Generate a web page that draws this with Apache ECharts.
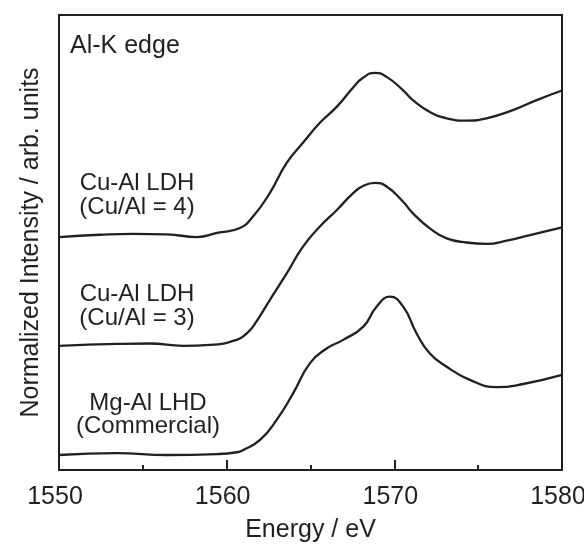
<!DOCTYPE html>
<html>
<head>
<meta charset="utf-8">
<script src="https://cdn.jsdelivr.net/npm/echarts@6/dist/echarts.min.js"></script>
<style>html,body{margin:0;padding:0;background:#fff;}#c{width:584px;height:544px;}</style>
</head>
<body>
<div id="c"></div>
<script>
const xTicks = [1550, 1560, 1570, 1580];
const energyCuAl4 = [1550.0,1552.44,1554.41,1556.44,1558.23,1559.42,1560.79,1561.57,1562.58,1563.58,1564.55,1565.56,1566.56,1567.53,1568.13,1568.84,1569.54,1570.51,1571.11,1572.12,1573.12,1574.31,1575.5,1577.07,1578.49,1580.0];
const intenCuAl4 = [5.12,5.17,5.19,5.18,5.12,5.21,5.32,5.57,6.09,6.75,7.19,7.63,7.98,8.40,8.62,8.73,8.64,8.35,8.13,7.87,7.73,7.68,7.73,7.91,8.13,8.34];
const energyCuAl3 = [1550.0,1553.46,1555.43,1557.39,1559.0,1560.6,1561.19,1561.57,1562.58,1563.58,1564.55,1565.56,1566.56,1567.53,1568.13,1568.84,1569.54,1570.51,1571.11,1572.12,1573.12,1574.31,1575.5,1576.7,1578.09,1580.0];
const intenCuAl3 = [2.73,2.77,2.78,2.73,2.75,2.86,3.00,3.15,3.74,4.32,4.91,5.35,5.71,6.08,6.24,6.31,6.23,5.90,5.64,5.31,5.09,5.00,4.97,5.04,5.16,5.33];
const energyMgAl = [1550.0,1553.46,1556.44,1559.42,1560.61,1560.99,1561.99,1562.98,1563.97,1564.97,1565.96,1566.95,1568.15,1568.94,1569.74,1570.53,1571.33,1572.12,1573.12,1574.51,1576.1,1577.69,1580.0];
const intenMgAl = [0.33,0.37,0.33,0.35,0.39,0.44,0.66,1.10,1.69,2.35,2.67,2.86,3.15,3.59,3.81,3.59,3.00,2.56,2.27,1.98,1.82,1.89,2.09];
const labels = ["Al-K edge", "Cu-Al LDH\n(Cu/Al = 4)", "Cu-Al LDH\n(Cu/Al = 3)", "Mg-Al LHD\n(Commercial)"];

const ink = '#231f20';
const font = '"Liberation Sans", Arial, sans-serif';
const fs = 25;
function pairs(xs, ys){ return xs.map((x,i)=>[x, ys[i]]); }
function line(name, xs, ys){
  return {name, type:'line', data:pairs(xs,ys), smooth:0.5, showSymbol:false, symbol:'none',
    lineStyle:{color:ink, width:2.3}, silent:true};
}
const chart = echarts.init(document.getElementById('c'), null, {renderer:'canvas'});
chart.setOption({
  animation:false,
  backgroundColor:'#fff',
  grid:{left:59, right:22, top:15, bottom:74, outerBoundsMode:'none', containLabel:false,
    show:true, borderColor:ink, borderWidth:2, backgroundColor:'transparent'},
  xAxis:{type:'value', min:xTicks[0], max:xTicks[xTicks.length-1], interval:10,
    name:'Energy / eV', nameLocation:'middle', nameGap:48,
    nameTextStyle:{fontFamily:font, fontSize:fs, color:ink},
    axisLine:{show:true, lineStyle:{color:ink, width:2}},
    axisTick:{show:true, inside:true, length:10, lineStyle:{color:ink, width:2}},
    minorTick:{show:true, splitNumber:2, length:5, lineStyle:{color:ink, width:2}},
    axisLabel:{fontFamily:font, fontSize:fs, color:ink, margin:15, padding:[0,8,0,0], formatter:v=>String(v), hideOverlap:false},
    splitLine:{show:false}},
  yAxis:{type:'value', min:0, max:10,
    name:'Normalized Intensity / arb. units', nameLocation:'middle', nameGap:15,
    nameTextStyle:{fontFamily:font, fontSize:fs, color:ink},
    axisLine:{show:true, lineStyle:{color:ink, width:2}},
    axisTick:{show:false}, axisLabel:{show:false}, splitLine:{show:false}},
  series:[
    line('Cu-Al LDH (Cu/Al = 4)', energyCuAl4, intenCuAl4),
    line('Cu-Al LDH (Cu/Al = 3)', energyCuAl3, intenCuAl3),
    line('Mg-Al LHD (Commercial)', energyMgAl, intenMgAl)
  ],
  graphic:[
    {type:'text', left:70, top:34, style:{text:labels[0], font:fs+'px '+font, fill:ink}},
    {type:'text', x:137, y:171, style:{text:labels[1], font:(fs-1)+'px '+font, fill:ink, align:'center', lineHeight:24}},
    {type:'text', x:137, y:282, style:{text:labels[2], font:(fs-1)+'px '+font, fill:ink, align:'center', lineHeight:24}},
    {type:'text', x:148, y:392, style:{text:labels[3], font:(fs-1)+'px '+font, fill:ink, align:'center', lineHeight:23}}
  ]
});
</script>
</body>
</html>
